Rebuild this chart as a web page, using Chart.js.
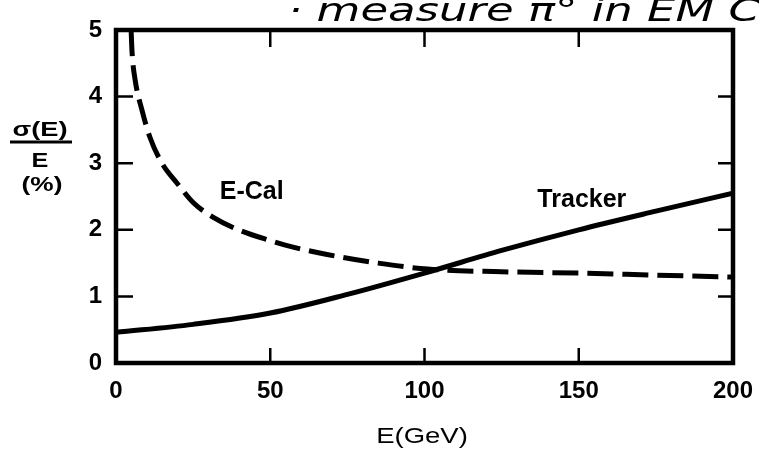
<!DOCTYPE html>
<html>
<head>
<meta charset="utf-8">
<script src="https://cdn.jsdelivr.net/npm/chart.js@4"></script>
<style>
  html, body { margin: 0; padding: 0; background: #fff; }
  #c { display: block; }
</style>
</head>
<body>
<canvas id="c" width="759" height="450"></canvas>
<script>
// ---- data ----
const xTicks = [0, 50, 100, 150, 200];
const yTicks = [0, 1, 2, 3, 4, 5];

const trackerE = [0, 25, 50, 75, 100, 125, 150, 175, 200];
const trackerRes = [0.46, 0.58, 0.75, 1.03, 1.35, 1.69, 2.0, 2.28, 2.55];

const ecalE = [4.9, 5.2, 6.2, 8.4, 11.0, 14.9, 19.8, 25.0, 31.4, 40.2, 49.9, 57.4, 68.4, 85, 101, 125, 150, 175, 200];
const ecalRes = [5.0, 4.67, 4.25, 3.8, 3.39, 3.0, 2.7, 2.41, 2.19, 1.99, 1.84, 1.74, 1.63, 1.5, 1.41, 1.37, 1.35, 1.32, 1.29];

const seriesNames = ['E-Cal', 'Tracker'];
const labelAnchorsE = [44, 151];
const labelAnchorsRes = [2.57, 2.45];

const titleText = '\u00B7 measure \u03C0\u00B0 in EM Cal';
const xTitle = 'E(GeV)';
const yTitleTop = '\u03C3(E)';
const yTitleBottom = 'E';
const yTitleUnit = '(%)';

// ---- build ----
const toPts = (xs, ys) => xs.map((x, i) => ({ x: x, y: ys[i] }));

const FONT = '"Liberation Sans", Arial, Helvetica, sans-serif';

function stretchText(ctx, text, cx, cy, sx) {
  ctx.save();
  ctx.translate(cx, cy);
  ctx.scale(sx, 1);
  ctx.fillText(text, 0, 0);
  ctx.restore();
}

const decor = {
  id: 'decor',
  afterDraw(chart) {
    const ctx = chart.ctx;
    const a = chart.chartArea;
    const xs = chart.scales.x, ys = chart.scales.y;
    ctx.save();
    ctx.strokeStyle = '#000';
    ctx.fillStyle = '#000';
    // frame
    ctx.lineWidth = 4.5;
    ctx.strokeRect(a.left, a.top, a.right - a.left, a.bottom - a.top);
    // inward ticks
    ctx.lineWidth = 2.5;
    ctx.beginPath();
    xTicks.forEach(v => {
      if (v === xs.min || v === xs.max) return;
      const p = xs.getPixelForValue(v);
      ctx.moveTo(p, a.bottom); ctx.lineTo(p, a.bottom - 15);
      ctx.moveTo(p, a.top); ctx.lineTo(p, a.top + 17);
    });
    yTicks.forEach(v => {
      if (v === ys.min || v === ys.max) return;
      const p = ys.getPixelForValue(v);
      ctx.moveTo(a.left, p); ctx.lineTo(a.left + 17, p);
      ctx.moveTo(a.right, p); ctx.lineTo(a.right - 15, p);
    });
    ctx.stroke();

    // series labels
    ctx.font = 'bold 25px ' + FONT;
    ctx.textAlign = 'center';
    ctx.textBaseline = 'middle';
    seriesNames.forEach((n, i) => {
      ctx.fillText(n, xs.getPixelForValue(labelAnchorsE[i]), ys.getPixelForValue(labelAnchorsRes[i]));
    });

    // x title
    ctx.font = '22px ' + FONT;
    stretchText(ctx, xTitle, 422, 437, 1.25);

    // y title (fraction)
    ctx.font = 'bold 21px ' + FONT;
    stretchText(ctx, yTitleTop, 40, 130, 1.3);
    ctx.lineWidth = 3;
    ctx.beginPath();
    ctx.moveTo(10, 142); ctx.lineTo(72, 142);
    ctx.stroke();
    stretchText(ctx, yTitleBottom, 40, 161, 1.2);
    stretchText(ctx, yTitleUnit, 42, 185, 1.25);

    // handwritten-style note at top (clipped)
    ctx.font = 'italic 32px "DejaVu Sans", sans-serif';
    ctx.textAlign = 'left';
    ctx.textBaseline = 'alphabetic';
    const w = ctx.measureText(titleText).width;
    const target = 800 - 288;
    ctx.translate(288, 21);
    ctx.scale(target / w, 1);
    ctx.fillText(titleText, 0, 0);
    ctx.restore();
  }
};

new Chart(document.getElementById('c'), {
  type: 'scatter',
  data: {
    datasets: [
      {
        label: seriesNames[0],
        data: toPts(ecalE, ecalRes),
        showLine: true,
        borderColor: '#000',
        borderWidth: 5,
        borderDash: [26, 9],
        borderCapStyle: 'butt',
        pointRadius: 0,
        cubicInterpolationMode: 'monotone',
        fill: false
      },
      {
        label: seriesNames[1],
        data: toPts(trackerE, trackerRes),
        showLine: true,
        borderColor: '#000',
        borderWidth: 5,
        pointRadius: 0,
        cubicInterpolationMode: 'monotone',
        fill: false
      }
    ]
  },
  options: {
    responsive: false,
    animation: false,
    devicePixelRatio: 1,
    layout: { padding: { left: 0, right: 26, top: 30, bottom: 0 } },
    plugins: { legend: { display: false }, tooltip: { enabled: false }, title: { display: false } },
    scales: {
      x: {
        type: 'linear', min: 0, max: 200,
        afterBuildTicks: s => { s.ticks = xTicks.map(v => ({ value: v })); },
        afterFit: s => { s.height = 87; s.paddingLeft = 0; s.paddingRight = 0; },
        grid: { display: false, drawTicks: false },
        border: { display: false },
        ticks: { color: '#000', font: { family: FONT, size: 24, weight: 'bold' }, padding: 14, maxRotation: 0 }
      },
      y: {
        type: 'linear', min: 0, max: 5,
        afterBuildTicks: s => { s.ticks = yTicks.map(v => ({ value: v })); },
        afterFit: s => { s.width = 116; s.paddingTop = 0; s.paddingBottom = 0; },
        grid: { display: false, drawTicks: false },
        border: { display: false },
        ticks: { color: '#000', font: { family: FONT, size: 24, weight: 'bold' }, padding: 14 }
      }
    }
  },
  plugins: [decor]
});
</script>
</body>
</html>
